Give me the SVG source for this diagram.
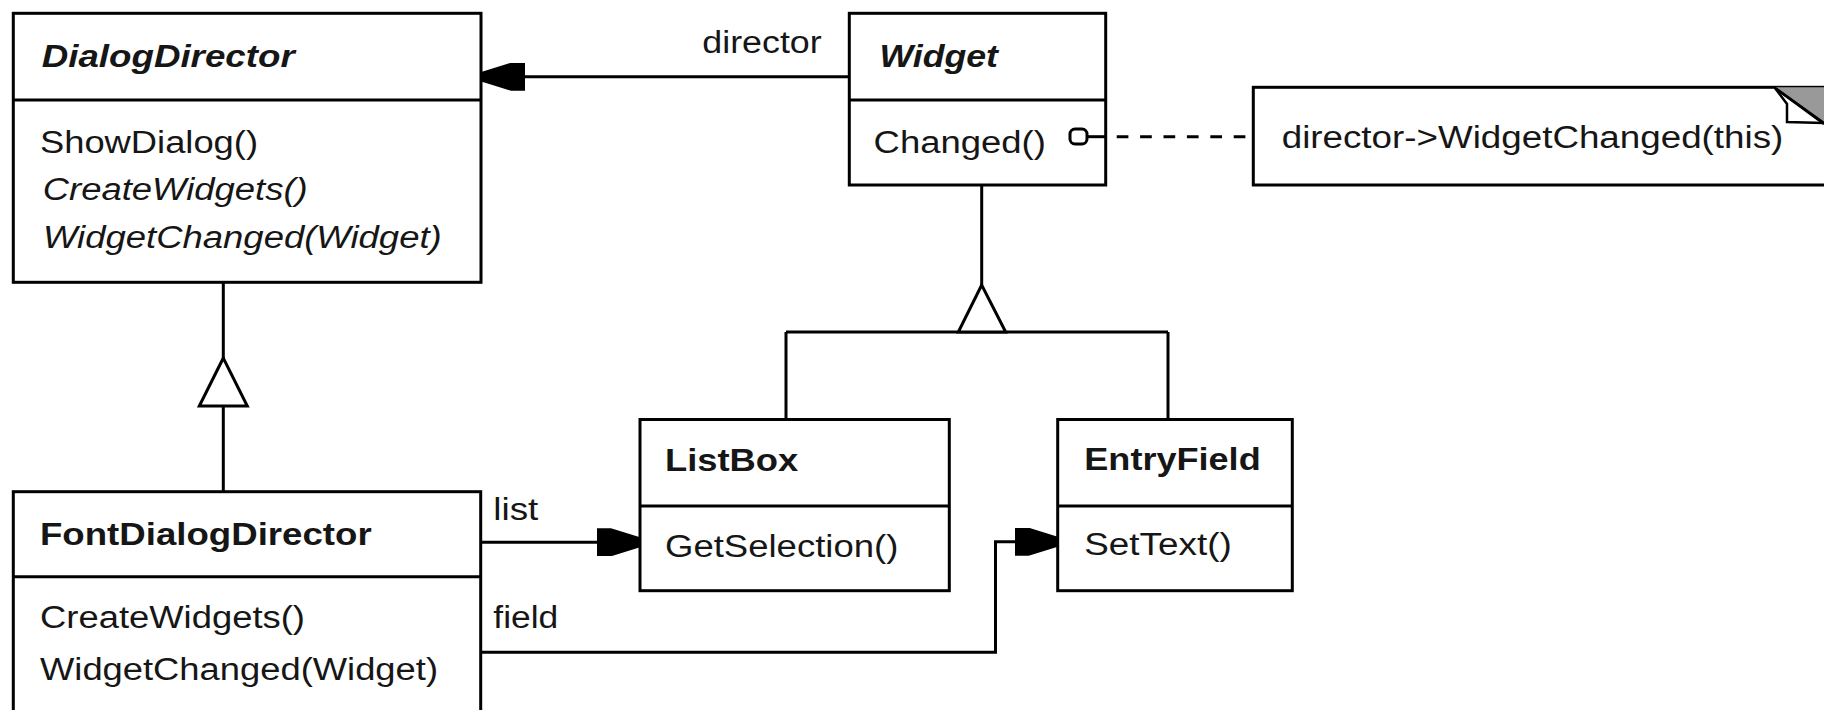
<svg xmlns="http://www.w3.org/2000/svg" width="1824" height="710" viewBox="0 0 1824 710">
  <style>
    .box { fill: #ffffff; stroke: #000000; stroke-width: 3; }
    .div { stroke: #000000; stroke-width: 3; fill: none; }
    .line { stroke: #000000; stroke-width: 3; fill: none; }
    .dash { stroke: #000000; stroke-width: 3; fill: none; stroke-dasharray: 11.7 11.7; }
    .gen { fill: #ffffff; stroke: #000000; stroke-width: 3; stroke-linejoin: miter; }
    text { font-family: "Liberation Sans", Arial, Helvetica, sans-serif; font-size: 31px; fill: #161616; }
    .title { font-weight: bold; }
    .abstract { font-weight: bold; font-style: italic; }
    .it { font-style: italic; }
  </style>
  <defs>
    <marker id="filled" viewBox="0 0 43 28" refX="43" refY="14" markerWidth="43" markerHeight="28" markerUnits="userSpaceOnUse" orient="auto">
      <path d="M0,0 L14,0 L43,9 L43,19 L14,28 L0,28 Z" fill="#000000"/>
    </marker>
  </defs>
  <rect x="0" y="0" width="1824" height="710" fill="#ffffff"/>

  <g id="DialogDirector">
    <rect class="box" x="13.3" y="13.3" width="467.7" height="269"/>
    <line class="div" x1="13.3" y1="100" x2="481" y2="100"/>
    <text class="abstract" x="41.7" y="66.7" textLength="253" lengthAdjust="spacingAndGlyphs">DialogDirector</text>
    <text x="40" y="153.3" textLength="218" lengthAdjust="spacingAndGlyphs">ShowDialog()</text>
    <text class="it" x="42.7" y="200" textLength="265" lengthAdjust="spacingAndGlyphs">CreateWidgets()</text>
    <text class="it" x="43" y="248" textLength="398.7" lengthAdjust="spacingAndGlyphs">WidgetChanged(Widget)</text>
  </g>

  <g id="director-label">
    <text x="702.3" y="53.3" textLength="119.4" lengthAdjust="spacingAndGlyphs">director</text>
  </g>

  <g id="Widget">
    <rect class="box" x="849.3" y="13.3" width="256.4" height="171.7"/>
    <line class="div" x1="849.3" y1="100" x2="1105.7" y2="100"/>
    <text class="abstract" x="879.4" y="66.7" textLength="118.6" lengthAdjust="spacingAndGlyphs">Widget</text>
    <text x="873.6" y="153.3" textLength="172.2" lengthAdjust="spacingAndGlyphs">Changed()</text>
  </g>

  <g id="Note">
    <rect class="box" x="1253.3" y="87.3" width="620" height="97.7"/>
    <polygon points="1775,87.3 1824,87.3 1824,124" fill="#999999"/>
    <polygon points="1775,88 1787,104 1787,122 1824,123" fill="#ffffff" stroke="#000000" stroke-width="2.5"/>
    <line x1="1775" y1="88" x2="1824" y2="124" stroke="#000000" stroke-width="2.5"/>
    <text x="1281.7" y="148.3" textLength="501.6" lengthAdjust="spacingAndGlyphs">director-&gt;WidgetChanged(this)</text>
  </g>

  <g id="FontDialogDirector">
    <rect class="box" x="13.3" y="491.7" width="467.4" height="240"/>
    <line class="div" x1="13.3" y1="576.7" x2="480.7" y2="576.7"/>
    <text class="title" x="40" y="545" textLength="331.7" lengthAdjust="spacingAndGlyphs">FontDialogDirector</text>
    <text x="40" y="628.3" textLength="265" lengthAdjust="spacingAndGlyphs">CreateWidgets()</text>
    <text x="40" y="680" textLength="398" lengthAdjust="spacingAndGlyphs">WidgetChanged(Widget)</text>
  </g>

  <g id="list-label">
    <text x="493.3" y="520" textLength="45" lengthAdjust="spacingAndGlyphs">list</text>
  </g>
  <g id="field-label">
    <text x="493.3" y="628.3" textLength="65" lengthAdjust="spacingAndGlyphs">field</text>
  </g>

  <g id="ListBox">
    <rect class="box" x="640" y="419.5" width="309.3" height="171.2"/>
    <line class="div" x1="640" y1="506" x2="949.3" y2="506"/>
    <text class="title" x="665" y="470.7" textLength="133.3" lengthAdjust="spacingAndGlyphs">ListBox</text>
    <text x="665" y="556.7" textLength="233.3" lengthAdjust="spacingAndGlyphs">GetSelection()</text>
  </g>

  <g id="EntryField">
    <rect class="box" x="1057.7" y="419.5" width="234.6" height="171.2"/>
    <line class="div" x1="1057.7" y1="506" x2="1292.3" y2="506"/>
    <text class="title" x="1084.3" y="470" textLength="176.4" lengthAdjust="spacingAndGlyphs">EntryField</text>
    <text x="1084.3" y="555" textLength="147.4" lengthAdjust="spacingAndGlyphs">SetText()</text>
  </g>

  <g id="connectors">
    <path class="line" d="M849.3,76.7 H482" marker-end="url(#filled)"/>
    <path class="line" d="M223.3,282.3 V358"/>
    <path class="line" d="M223.3,406 V491.7"/>
    <polygon class="gen" points="223.3,358 199.3,406 247.3,406"/>
    <path class="line" d="M981.7,185 V285"/>
    <path class="line" d="M786,332 H1168 M786,332 V419.5 M1168,332 V419.5"/>
    <polygon class="gen" points="981.7,285 958.3,332 1005.7,332"/>
    <path class="line" d="M481,542.3 H640" marker-end="url(#filled)"/>
    <path class="line" d="M481,652.3 H995.5 V541.7 H1057.7" marker-end="url(#filled)"/>
    <path class="line" d="M1087,136.7 H1106"/>
    <path class="dash" d="M1116.7,136.7 H1253.3"/>
    <rect x="1070" y="129" width="17" height="15" rx="5" ry="5" fill="#ffffff" stroke="#000000" stroke-width="3"/>
  </g>
</svg>
